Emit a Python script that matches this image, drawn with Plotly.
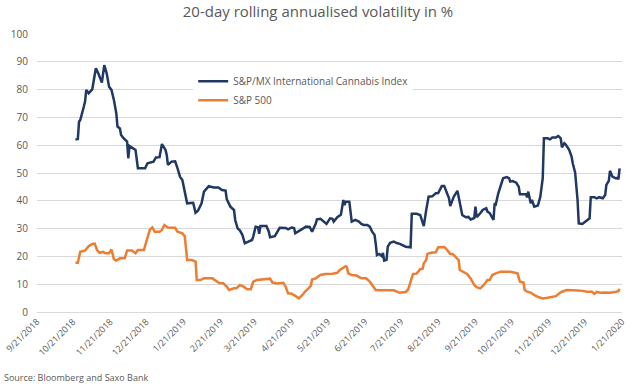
import plotly.graph_objects as go

title_text = "20-day rolling annualised volatility in %"
source_text = "Source: Bloomberg and Saxo Bank"
series_names = ["S&P/MX International Cannabis Index", "S&P 500"]

cannabis_dates = [
    "2018-10-23", "2018-10-25", "2018-10-26", "2018-10-27", "2018-10-30", "2018-10-31", "2018-11-01", "2018-11-03",
    "2018-11-06", "2018-11-07", "2018-11-09", "2018-11-11", "2018-11-14", "2018-11-16", "2018-11-18", "2018-11-20",
    "2018-11-22", "2018-11-24", "2018-11-26", "2018-11-27", "2018-11-29", "2018-11-30", "2018-12-02", "2018-12-05",
    "2018-12-06", "2018-12-07", "2018-12-10", "2018-12-12", "2018-12-14", "2018-12-20", "2018-12-22", "2018-12-27",
    "2018-12-29", "2019-01-01", "2019-01-03", "2019-01-06", "2019-01-07", "2019-01-08", "2019-01-11", "2019-01-14",
    "2019-01-16", "2019-01-18", "2019-01-20", "2019-01-22", "2019-01-24", "2019-01-29", "2019-01-31", "2019-02-02",
    "2019-02-05", "2019-02-07", "2019-02-11", "2019-02-15", "2019-02-19", "2019-02-22", "2019-02-25", "2019-02-26",
    "2019-03-01", "2019-03-04", "2019-03-05", "2019-03-07", "2019-03-09", "2019-03-11", "2019-03-13", "2019-03-16",
    "2019-03-19", "2019-03-20", "2019-03-22", "2019-03-24", "2019-03-25", "2019-03-26", "2019-03-31", "2019-04-02",
    "2019-04-03", "2019-04-07", "2019-04-09", "2019-04-11", "2019-04-16", "2019-04-18", "2019-04-21", "2019-04-23",
    "2019-04-24", "2019-04-28", "2019-05-01", "2019-05-03", "2019-05-06", "2019-05-08", "2019-05-11", "2019-05-12",
    "2019-05-15", "2019-05-17", "2019-05-19", "2019-05-20", "2019-05-23", "2019-05-25", "2019-05-26", "2019-05-29",
    "2019-06-01", "2019-06-03", "2019-06-04", "2019-06-05", "2019-06-08", "2019-06-10", "2019-06-13", "2019-06-16",
    "2019-06-18", "2019-06-20", "2019-06-23", "2019-06-25", "2019-06-27", "2019-06-29", "2019-06-30", "2019-07-01",
    "2019-07-03", "2019-07-05", "2019-07-06", "2019-07-07", "2019-07-09", "2019-07-10", "2019-07-12", "2019-07-15",
    "2019-07-18", "2019-07-20", "2019-07-25", "2019-07-29", "2019-07-30", "2019-08-03", "2019-08-06", "2019-08-08",
    "2019-08-09", "2019-08-11", "2019-08-13", "2019-08-16", "2019-08-19", "2019-08-21", "2019-08-23", "2019-08-24",
    "2019-08-26", "2019-08-28", "2019-08-30", "2019-08-31", "2019-09-02", "2019-09-03", "2019-09-06", "2019-09-08",
    "2019-09-10", "2019-09-13", "2019-09-15", "2019-09-17", "2019-09-20", "2019-09-21", "2019-09-22", "2019-09-25",
    "2019-09-27", "2019-09-30", "2019-10-01", "2019-10-03", "2019-10-06", "2019-10-07", "2019-10-08", "2019-10-10",
    "2019-10-12", "2019-10-14", "2019-10-17", "2019-10-19", "2019-10-20", "2019-10-22", "2019-10-25", "2019-10-27",
    "2019-10-28", "2019-11-02", "2019-11-03", "2019-11-04", "2019-11-06", "2019-11-07", "2019-11-09", "2019-11-12",
    "2019-11-14", "2019-11-16", "2019-11-17", "2019-11-20", "2019-11-22", "2019-11-24", "2019-11-27", "2019-11-29",
    "2019-12-01", "2019-12-02", "2019-12-04", "2019-12-05", "2019-12-08", "2019-12-10", "2019-12-11", "2019-12-13",
    "2019-12-15", "2019-12-16", "2019-12-19", "2019-12-22", "2019-12-25", "2019-12-26", "2019-12-29", "2019-12-31",
    "2020-01-02", "2020-01-05", "2020-01-07", "2020-01-08", "2020-01-10", "2020-01-11", "2020-01-13", "2020-01-16",
    "2020-01-17", "2020-01-18", "2020-01-19",
]
cannabis_values = [
    62.0, 62.2, 68.5, 69.0, 73.9, 75.7, 79.9, 78.7,
    80.1, 82.3, 87.7, 85.9, 82.5, 88.8, 85.9, 81.0,
    79.9, 76.3, 71.5, 66.7, 66.0, 63.7, 62.5, 61.3,
    55.3, 59.7, 58.9, 58.3, 51.7, 51.7, 53.5, 54.1,
    55.6, 55.7, 60.4, 58.3, 56.5, 52.9, 54.1, 54.2,
    51.7, 48.7, 47.5, 43.3, 39.1, 39.3, 35.7, 36.4,
    39.1, 43.3, 45.3, 44.8, 44.8, 43.9, 43.7, 40.5,
    37.9, 36.7, 33.1, 30.1, 29.3, 27.7, 24.7, 25.3,
    25.9, 27.1, 30.7, 30.5, 28.1, 30.9, 30.9, 28.9,
    26.9, 27.3, 28.9, 30.3, 30.2, 29.7, 30.4, 30.2,
    28.3, 29.3, 30.1, 30.7, 30.6, 28.9, 31.7, 33.3,
    33.5, 32.8, 31.9, 31.7, 33.7, 33.5, 32.5, 34.1,
    35.0, 40.3, 38.5, 39.7, 39.7, 32.5, 33.1, 32.5,
    31.7, 31.3, 31.3, 30.7, 28.9, 27.7, 24.5, 20.5,
    20.9, 20.1, 21.2, 18.5, 18.8, 23.5, 24.9, 25.3,
    24.7, 24.5, 23.5, 23.3, 35.3, 35.3, 34.9, 32.1,
    30.9, 36.7, 41.5, 41.6, 42.7, 42.8, 44.5, 45.3,
    45.3, 43.3, 40.9, 38.1, 40.3, 41.5, 43.6, 38.5,
    34.9, 34.1, 34.2, 33.3, 33.8, 37.9, 34.1, 35.5,
    36.7, 37.3, 36.1, 35.5, 33.1, 39.1, 38.8, 42.7,
    45.1, 48.1, 48.5, 48.1, 46.9, 47.1, 46.5, 45.1,
    42.4, 42.4, 41.3, 43.3, 39.1, 40.3, 37.9, 38.3,
    41.5, 48.1, 62.5, 62.5, 62.1, 62.8, 62.8, 63.3,
    62.5, 59.2, 60.7, 60.3, 58.3, 55.9, 53.5, 50.1,
    40.3, 31.9, 31.7, 32.8, 33.7, 41.3, 41.3, 40.9,
    41.3, 40.9, 42.1, 45.7, 47.2, 50.8, 48.7, 48.1,
    48.3, 47.7, 51.7,
]

sp500_dates = [
    "2018-10-23", "2018-10-25", "2018-10-27", "2018-10-31", "2018-11-03", "2018-11-06", "2018-11-08", "2018-11-10",
    "2018-11-12", "2018-11-15", "2018-11-17", "2018-11-20", "2018-11-22", "2018-11-24", "2018-11-26", "2018-11-29",
    "2018-12-03", "2018-12-05", "2018-12-09", "2018-12-12", "2018-12-14", "2018-12-19", "2018-12-21", "2018-12-24",
    "2018-12-26", "2018-12-28", "2019-01-01", "2019-01-03", "2019-01-05", "2019-01-08", "2019-01-14", "2019-01-16",
    "2019-01-20", "2019-01-22", "2019-01-24", "2019-01-28", "2019-01-31", "2019-02-01", "2019-02-04", "2019-02-07",
    "2019-02-14", "2019-02-16", "2019-02-20", "2019-02-23", "2019-02-26", "2019-02-28", "2019-03-04", "2019-03-06",
    "2019-03-09", "2019-03-12", "2019-03-15", "2019-03-18", "2019-03-20", "2019-03-23", "2019-03-27", "2019-03-31",
    "2019-04-03", "2019-04-05", "2019-04-09", "2019-04-14", "2019-04-16", "2019-04-18", "2019-04-21", "2019-04-24",
    "2019-04-27", "2019-04-30", "2019-05-02", "2019-05-05", "2019-05-07", "2019-05-08", "2019-05-11", "2019-05-15",
    "2019-05-19", "2019-05-25", "2019-05-29", "2019-05-31", "2019-06-02", "2019-06-05", "2019-06-06", "2019-06-07",
    "2019-06-10", "2019-06-14", "2019-06-18", "2019-06-22", "2019-06-25", "2019-06-28", "2019-06-30", "2019-07-05",
    "2019-07-09", "2019-07-15", "2019-07-20", "2019-07-25", "2019-07-27", "2019-07-29", "2019-07-31", "2019-08-03",
    "2019-08-06", "2019-08-08", "2019-08-09", "2019-08-11", "2019-08-12", "2019-08-15", "2019-08-19", "2019-08-21",
    "2019-08-24", "2019-08-26", "2019-08-28", "2019-08-31", "2019-09-02", "2019-09-04", "2019-09-07", "2019-09-08",
    "2019-09-11", "2019-09-14", "2019-09-17", "2019-09-20", "2019-09-22", "2019-09-25", "2019-09-28", "2019-10-01",
    "2019-10-03", "2019-10-05", "2019-10-08", "2019-10-12", "2019-10-20", "2019-10-24", "2019-10-26", "2019-10-28",
    "2019-10-31", "2019-11-01", "2019-11-03", "2019-11-06", "2019-11-09", "2019-11-13", "2019-11-16", "2019-11-20",
    "2019-11-24", "2019-11-27", "2019-11-29", "2019-12-02", "2019-12-06", "2019-12-11", "2019-12-15", "2019-12-19",
    "2019-12-23", "2019-12-27", "2019-12-29", "2019-12-31", "2020-01-03", "2020-01-07", "2020-01-11", "2020-01-16",
    "2020-01-18", "2020-01-19",
]
sp500_values = [
    17.7, 17.7, 21.7, 22.1, 23.7, 24.5, 24.6, 22.3,
    21.3, 21.6, 21.1, 21.1, 22.5, 19.0, 18.5, 19.3,
    19.3, 22.1, 22.1, 21.1, 22.3, 22.3, 25.3, 29.7,
    30.4, 28.9, 28.9, 29.5, 31.3, 30.4, 30.3, 28.9,
    28.3, 27.3, 18.7, 18.7, 18.1, 11.5, 11.5, 12.1,
    12.1, 11.5, 10.3, 10.3, 9.1, 7.9, 8.5, 8.5,
    9.7, 9.1, 8.2, 8.2, 10.9, 11.5, 11.7, 12.1,
    12.0, 10.6, 10.3, 10.5, 9.1, 6.7, 6.6, 5.8,
    4.9, 6.1, 7.3, 8.5, 9.5, 11.7, 12.1, 13.3,
    13.7, 13.8, 14.1, 15.1, 15.7, 16.5, 16.2, 14.0,
    13.3, 13.1, 12.1, 12.1, 10.9, 9.1, 7.9, 7.8,
    7.7, 7.8, 6.9, 7.2, 8.1, 10.9, 13.7, 13.8,
    15.4, 15.6, 17.5, 18.7, 20.9, 21.3, 21.5, 23.3,
    23.5, 23.4, 22.5, 20.9, 20.9, 20.1, 18.7, 15.1,
    14.5, 13.7, 12.1, 9.7, 8.9, 8.5, 9.7, 11.5,
    11.6, 13.3, 13.9, 14.5, 14.5, 14.1, 13.9, 10.9,
    10.6, 7.9, 7.3, 7.0, 6.1, 5.3, 4.9, 5.1,
    5.5, 5.7, 6.5, 7.3, 7.9, 7.9, 7.7, 7.6,
    7.3, 7.3, 6.5, 7.2, 6.9, 7.0, 6.9, 7.3,
    7.5, 8.3,
]

y_ticks = [0, 10, 20, 30, 40, 50, 60, 70, 80, 90, 100]
x_tick_dates = [
    "2018-09-21", "2018-10-21", "2018-11-21", "2018-12-21", "2019-01-21", "2019-02-21", "2019-03-21",
    "2019-04-21", "2019-05-21", "2019-06-21", "2019-07-21", "2019-08-21", "2019-09-21", "2019-10-21",
    "2019-11-21", "2019-12-21", "2020-01-21",
]
x_tick_labels = [
    "9/21/2018", "10/21/2018", "11/21/2018", "12/21/2018", "1/21/2019", "2/21/2019", "3/21/2019",
    "4/21/2019", "5/21/2019", "6/21/2019", "7/21/2019", "8/21/2019", "9/21/2019", "10/21/2019",
    "11/21/2019", "12/21/2019", "1/21/2020",
]

FONT = "Open Sans"
GREY = "#595959"
GRID = "#D9D9D9"

fig = go.Figure()
fig.add_trace(go.Scatter(x=cannabis_dates, y=cannabis_values, mode="lines", name=series_names[0],
                         line=dict(color="#203864", width=2.5)))
fig.add_trace(go.Scatter(x=sp500_dates, y=sp500_values, mode="lines", name=series_names[1],
                         line=dict(color="#ED7D31", width=2.5)))

fig.update_layout(
    width=636, height=387,
    margin=dict(l=37, r=14, t=34, b=75, autoexpand=False),
    paper_bgcolor="white", plot_bgcolor="white",
    font=dict(family=FONT, color=GREY),
    title=dict(text=title_text, x=0.5, xanchor="center", y=0.969, yanchor="middle",
               font=dict(family=FONT, size=15, color=GREY)),
    showlegend=True,
    legend=dict(x=0.267, y=0.882, xanchor="left", yanchor="top", bgcolor="white",
                font=dict(family=FONT, size=10, color=GREY), tracegroupgap=0,
                itemwidth=30),
    xaxis=dict(type="date", range=["2018-09-21", "2020-01-21"], tickmode="array",
               tickvals=x_tick_dates, ticktext=x_tick_labels, tickangle=-45,
               tickfont=dict(family=FONT, size=9, color=GREY), showgrid=False,
               showline=True, linecolor=GRID, linewidth=1, ticks="", zeroline=False,
               automargin=False),
    yaxis=dict(range=[0, 100], tickmode="array", tickvals=y_ticks,
               tickfont=dict(family=FONT, size=10, color=GREY), showgrid=True,
               gridcolor=GRID, gridwidth=1, zeroline=False, ticks="",
               ticklabelstandoff=8, automargin=False),
    annotations=[dict(text=source_text, xref="paper", yref="paper", x=-0.06, y=-0.237,
                      xanchor="left", yanchor="middle", showarrow=False,
                      font=dict(family=FONT, size=9, color=GREY))],
)

fig.write_html("out.html", config={"displayModeBar": False},
               post_script="document.body.style.margin='0';document.body.style.padding='0';")
